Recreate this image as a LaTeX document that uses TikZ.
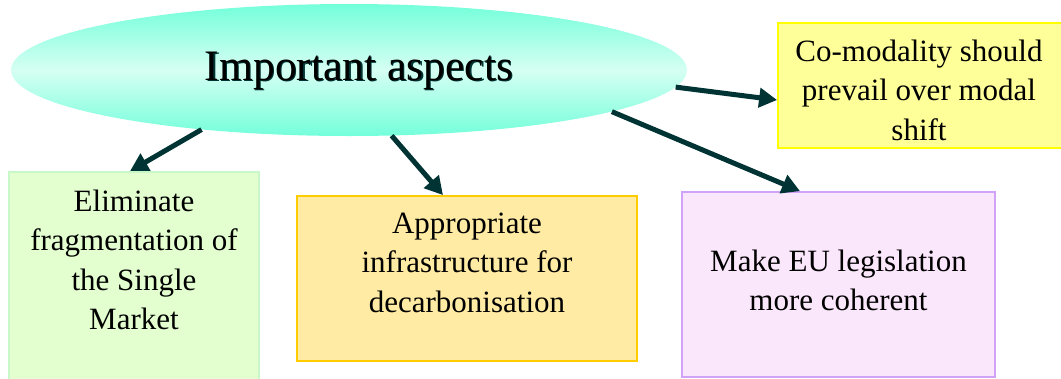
\documentclass[tikz,border=0pt]{standalone}
\usepackage{fontspec}
\setmainfont{Liberation Serif}
\usetikzlibrary{arrows.meta,shapes.geometric}

\definecolor{linkteal}{RGB}{0,51,51}
\definecolor{hubedge}{RGB}{115,255,218}
\definecolor{hubcore}{RGB}{214,255,243}
\definecolor{greenfill}{RGB}{227,255,207}
\definecolor{greenline}{RGB}{200,248,200}
\definecolor{orangefill}{RGB}{255,235,163}
\definecolor{orangeline}{RGB}{255,204,0}
\definecolor{purplefill}{RGB}{251,231,251}
\definecolor{purpleline}{RGB}{208,162,248}
\definecolor{yellowfill}{RGB}{255,255,153}
\definecolor{yellowline}{RGB}{255,255,0}

\begin{document}
\begin{tikzpicture}[x=1pt,y=-1pt,
  panel/.style={rectangle, inner sep=0pt, line width=1.8pt},
  boxtext/.style={font=\fontsize{31}{39.5}\selectfont, align=center,
    inner sep=0pt, anchor=north},
  link/.style={line width=5pt, draw=linkteal, fill=linkteal,
    -{Triangle[length=18pt,width=19pt]}}]
\useasboundingbox (0,0) rectangle (1061,378);
\clip (0,0) rectangle (1061,378);

% central ellipse with its title
\node[ellipse, minimum width=676pt, minimum height=132pt, inner sep=0pt,
  top color=hubedge, bottom color=hubedge, middle color=hubcore] (hub) at (349,70) {};
\node[font=\fontsize{43.5}{50}\selectfont, anchor=base, text=linkteal, inner sep=0pt]
  (titleshade) at (360.3,81.3) {Important aspects};
\node[font=\fontsize{43.5}{50}\selectfont, anchor=base, text=black, inner sep=0pt]
  (title) at (359,80) {Important aspects};

% the four aspect boxes
\node[panel, draw=greenline, fill=greenfill, minimum width=250pt, minimum height=212pt]
  (green) at (134,278) {};
\node[panel, draw=orangeline, fill=orangefill, minimum width=340pt, minimum height=165pt]
  (orange) at (467,278.5) {};
\node[panel, draw=purpleline, fill=purplefill, minimum width=313pt, minimum height=185pt]
  (purple) at (838.5,284.5) {};
\node[panel, draw=yellowline, fill=yellowfill, minimum width=286pt, minimum height=125pt]
  (yellow) at (921,85.5) {};

\node[boxtext] (greentext) at (134,189.5)
  {Eliminate\\fragmentation of\\the Single\\Market};
\node[boxtext] (orangetext) at (467,212.5)
  {Appropriate\\infrastructure for\\decarbonisation};
\node[boxtext] (purpletext) at (838.5,249.5)
  {Make EU legislation\\more coherent};
\node[boxtext] (yellowtext) at (919,39.5)
  {Co-modality should\\prevail over modal\\shift};

% connectors from the ellipse to each box
\draw[link] (hub.202) -- ([xshift=-4pt]green.north);
\draw[link] (hub.303) -- ([xshift=-24pt]orange.north);
\draw[link] (hub.357.4) -- ([yshift=-14.5pt]yellow.west);
\draw[link] (hub.351) -- ([xshift=-38.5pt]purple.north);
\end{tikzpicture}
\end{document}
